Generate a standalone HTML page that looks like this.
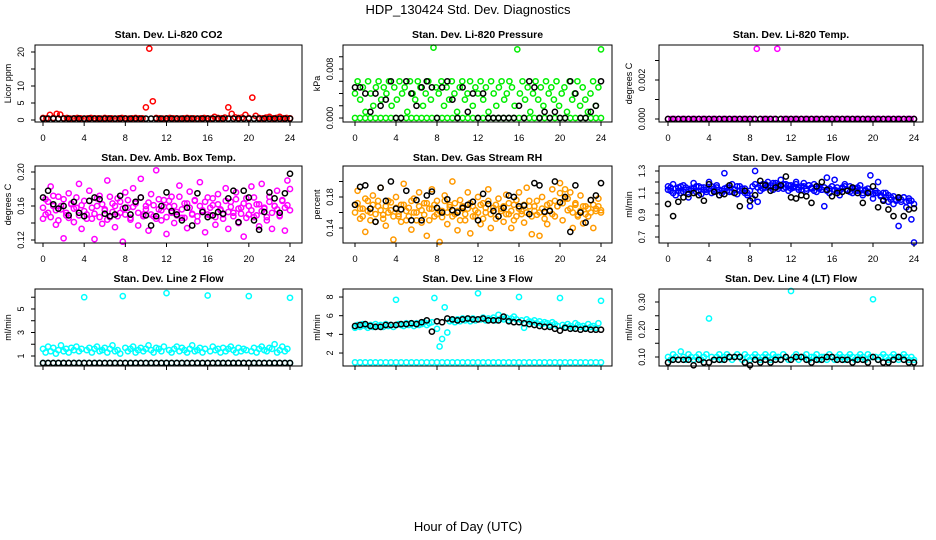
<!DOCTYPE html>
<html><head><meta charset="utf-8">
<style>
html,body{margin:0;padding:0;background:#fff;}
svg{display:block;font-family:"Liberation Sans",sans-serif;}
</style></head>
<body>
<svg id="chart" width="936" height="540" viewBox="0 0 936 540" xmlns="http://www.w3.org/2000/svg">
<rect width="936" height="540" fill="#fff"/>
<text x="468" y="14" font-size="13" text-anchor="middle">HDP_130424  Std. Dev. Diagnostics</text>
<text x="468" y="531" font-size="13" text-anchor="middle">Hour of Day (UTC)</text>
<g id="panels"></g>
</svg>
<script>
// ---- data (x = hour spread over 0..24 by index) ----
const xTicks = [0,4,8,12,16,20,24];

const co2Red = [0.6,0.5,1.5,0.6,1.8,1.6,0.5,0.6,0.4,0.5,0.6,0.5,0.4,0.5,0.6,0.5,0.5,0.4,0.6,0.5,0.5,0.4,0.5,0.6,0.5,0.4,0.5,0.6,0.5,0.5,3.7,21,5.5,0.6,0.5,0.4,0.5,0.6,0.5,0.5,0.4,0.5,0.6,0.5,0.5,0.4,0.5,0.6,0.5,0.4,0.9,0.6,0.5,0.7,3.7,1.8,0.8,0.6,0.7,1.5,0.6,6.6,1.2,0.6,0.5,0.7,0.9,0.5,0.6,0.9,0.5,0.6,0.5];
const co2Black = [0.4,0.4,0.4,0.4,0.4,0.4,0.4,0.4,0.4,0.4,0.4,0.4,0.4,0.4,0.4,0.4,0.4,0.4,0.4,0.4,0.4,0.4,0.4,0.4,0.4,0.4,0.4,0.4,0.4,0.4,0.4,0.4,0.4,0.4,0.4,0.4,0.4,0.4,0.4,0.4,0.4,0.4,0.4,0.4,0.4,0.4,0.4,0.4,0.4];

const presGreen = [0.004,0.006,0.003,0.005,0.001,0.006,0.004,0.002,0.005,0.006,0.003,0.005,0.004,0.006,0.002,0.005,0.003,0.006,0.004,0.005,0.001,0.006,0.004,0.003,0.006,0.005,0.002,0.004,0.006,0.003,0.0115,0.005,0.004,0.006,0.002,0.005,0.003,0.006,0.004,0.001,0.005,0.006,0.003,0.004,0.006,0.002,0.005,0.004,0.006,0.003,0.005,0.001,0.006,0.004,0.002,0.005,0.006,0.003,0.004,0.006,0.005,0.002,0.0112,0.004,0.006,0.003,0.005,0.001,0.004,0.006,0.003,0.005,0.002,0.006,0.004,0.005,0.003,0.006,0.002,0.004,0.005,0.001,0.006,0.003,0.004,0.006,0.002,0.005,0.003,0.001,0.004,0.006,0.002,0.005,0.0112];
const presGreenBase = [0,0,0,0,0,0,0,0,0,0,0,0,0,0,0,0,0,0,0,0,0,0,0,0,0,0,0,0,0,0,0,0,0,0,0,0,0,0,0,0,0,0,0,0,0,0,0,0,0];
const presBlack = [0.005,0.005,0.004,0.001,0.004,0.002,0.003,0.006,0,0,0.006,0.004,0.002,0.005,0.006,0.005,0,0.005,0.006,0.003,0,0.005,0.001,0.004,0,0.004,0,0,0,0,0,0,0.002,0,0.006,0.005,0,0.001,0,0.001,0,0,0.006,0.004,0,0,0.001,0.002,0.006];

const tempMag = [0,0,0,0,0,0,0,0,0,0,0,0,0,0,0,0,0,0,0,0,0,0,0,0,0,0,0.0036,0,0,0,0,0,0.0036,0,0,0,0,0,0,0,0,0,0,0,0,0,0,0,0,0,0,0,0,0,0,0,0,0,0,0,0,0,0,0,0,0,0,0,0,0,0,0,0];
const tempBlack = [0,0,0,0,0,0,0,0,0,0,0,0,0,0,0,0,0,0,0,0,0,0,0,0,0,0,0,0,0,0,0,0,0,0,0,0,0,0,0,0,0,0,0,0,0,0,0,0,0];

const ambMag = [0.145,0.168,0.152,0.183,0.160,0.138,0.171,0.156,0.122,0.149,0.175,0.162,0.141,0.158,0.186,0.133,0.166,0.150,0.178,0.145,0.121,0.160,0.172,0.139,0.155,0.190,0.147,0.163,0.135,0.169,0.152,0.118,0.176,0.158,0.144,0.181,0.165,0.137,0.192,0.150,0.160,0.131,0.174,0.148,0.202,0.156,0.143,0.167,0.127,0.159,0.171,0.140,0.153,0.184,0.146,0.163,0.134,0.177,0.150,0.166,0.142,0.188,0.155,0.129,0.170,0.149,0.161,0.138,0.174,0.156,0.145,0.181,0.133,0.165,0.152,0.176,0.140,0.158,0.124,0.169,0.150,0.183,0.147,0.162,0.136,0.186,0.157,0.143,0.171,0.133,0.160,0.178,0.148,0.166,0.131,0.190,0.180];
const ambMag2 = [0.158,0.150,0.165,0.147,0.172,0.155,0.143,0.160,0.168,0.152,0.146,0.163,0.157,0.170,0.149,0.161,0.154,0.145,0.166,0.158,0.151,0.169,0.147,0.162,0.156,0.144,0.171,0.153,0.160,0.148,0.165,0.157,0.150,0.167,0.146,0.159,0.163,0.152,0.170,0.148,0.156,0.164,0.150,0.161,0.145,0.168,0.155,0.159,0.147,0.166,0.152,0.160,0.149,0.171,0.156,0.146,0.163,0.158,0.151,0.167,0.148,0.160,0.154,0.165,0.150,0.158,0.169,0.147,0.162,0.155,0.150,0.166,0.153,0.159,0.148,0.168,0.157,0.151,0.163,0.146,0.160,0.155,0.170,0.149,0.162,0.154,0.158,0.147,0.165,0.152,0.160,0.156,0.149,0.167,0.158,0.161,0.155];
const ambBlack = [0.170,0.178,0.162,0.157,0.160,0.149,0.165,0.152,0.148,0.166,0.170,0.168,0.151,0.148,0.150,0.172,0.158,0.150,0.165,0.170,0.149,0.137,0.148,0.160,0.176,0.154,0.150,0.143,0.158,0.137,0.175,0.153,0.147,0.149,0.153,0.151,0.169,0.178,0.141,0.178,0.170,0.143,0.132,0.153,0.176,0.169,0.152,0.175,0.198];

const rhOrange = [0.170,0.188,0.152,0.165,0.135,0.175,0.160,0.182,0.148,0.168,0.192,0.157,0.143,0.175,0.163,0.125,0.180,0.155,0.170,0.197,0.150,0.166,0.138,0.178,0.160,0.186,0.147,0.172,0.130,0.165,0.190,0.155,0.175,0.122,0.162,0.182,0.145,0.170,0.200,0.158,0.137,0.176,0.165,0.150,0.186,0.133,0.168,0.155,0.180,0.145,0.172,0.160,0.190,0.140,0.166,0.152,0.178,0.162,0.148,0.183,0.158,0.140,0.170,0.155,0.186,0.162,0.147,0.192,0.175,0.132,0.168,0.157,0.130,0.180,0.160,0.145,0.172,0.190,0.155,0.168,0.198,0.150,0.178,0.163,0.186,0.140,0.172,0.157,0.182,0.146,0.168,0.155,0.176,0.140,0.165,0.178,0.160];
const rhOrange2 = [0.160,0.172,0.165,0.155,0.178,0.162,0.150,0.170,0.158,0.175,0.163,0.152,0.168,0.160,0.173,0.155,0.166,0.158,0.148,0.170,0.162,0.155,0.175,0.160,0.150,0.168,0.163,0.157,0.172,0.150,0.165,0.170,0.158,0.162,0.154,0.175,0.160,0.167,0.155,0.172,0.162,0.150,0.168,0.158,0.165,0.172,0.155,0.163,0.160,0.170,0.152,0.166,0.175,0.158,0.162,0.170,0.155,0.165,0.168,0.158,0.172,0.162,0.150,0.176,0.165,0.158,0.170,0.160,0.168,0.155,0.162,0.175,0.160,0.165,0.152,0.170,0.163,0.158,0.175,0.168,0.185,0.172,0.190,0.178,0.165,0.160,0.170,0.155,0.162,0.168,0.158,0.165,0.160,0.170,0.162,0.168,0.163];
const rhBlack = [0.170,0.193,0.195,0.165,0.148,0.192,0.175,0.200,0.165,0.164,0.188,0.150,0.176,0.150,0.182,0.187,0.166,0.160,0.177,0.163,0.160,0.166,0.170,0.174,0.150,0.184,0.171,0.162,0.155,0.166,0.182,0.180,0.168,0.169,0.158,0.198,0.195,0.161,0.162,0.200,0.173,0.180,0.135,0.195,0.160,0.147,0.176,0.182,0.198];

const flowBlue = [1.16,1.12,1.18,1.08,1.15,1.10,1.17,1.13,1.06,1.14,1.19,1.11,1.16,1.09,1.15,1.13,1.20,1.10,1.14,1.17,1.08,1.12,1.28,1.15,1.11,1.18,1.13,1.09,1.16,1.12,1.14,1.10,0.98,1.05,1.30,1.02,1.12,1.18,1.15,1.20,1.17,1.13,1.19,1.16,1.22,1.14,1.18,1.12,1.17,1.15,1.20,1.13,1.16,1.19,1.12,1.17,1.14,1.18,1.11,1.15,1.13,0.98,1.24,1.10,1.16,1.22,1.12,1.08,1.15,1.18,1.13,1.16,1.10,1.14,1.12,1.17,1.08,1.13,1.11,1.26,1.05,1.10,1.20,1.08,1.04,1.10,1.02,1.06,1.00,1.04,0.80,1.02,1.06,0.97,1.03,0.86,0.65];
const flowBlue2 = [1.13,1.15,1.10,1.14,1.12,1.16,1.11,1.15,1.13,1.12,1.14,1.16,1.12,1.15,1.13,1.11,1.14,1.16,1.12,1.15,1.13,1.10,1.14,1.12,1.15,1.11,1.13,1.16,1.12,1.14,1.10,1.08,1.12,1.16,1.18,1.15,1.17,1.14,1.18,1.16,1.15,1.19,1.17,1.14,1.16,1.18,1.15,1.17,1.14,1.16,1.18,1.15,1.13,1.16,1.14,1.17,1.15,1.12,1.16,1.14,1.13,1.15,1.12,1.14,1.16,1.13,1.15,1.12,1.14,1.16,1.13,1.11,1.14,1.12,1.15,1.13,1.10,1.12,1.14,1.11,1.09,1.12,1.10,1.07,1.10,1.06,1.08,1.04,1.07,1.03,1.05,1.04,1.06,1.02,1.05,1.03,1.00];
const flowBlack = [1.00,0.89,1.02,1.06,1.09,1.10,1.08,1.03,1.18,1.11,1.08,1.09,1.17,1.10,0.98,1.12,1.03,1.08,1.21,1.17,1.12,1.15,1.17,1.25,1.06,1.05,1.08,1.07,1.01,1.16,1.20,1.13,1.07,1.10,1.11,1.12,1.15,1.10,1.01,1.10,1.16,0.97,1.03,0.95,0.89,1.06,0.89,0.95,0.96];

const l2Cyan = [1.6,1.3,1.8,1.4,1.7,1.2,1.5,1.9,1.4,1.6,1.3,1.7,1.5,1.8,1.4,1.6,6.0,1.5,1.7,1.3,1.6,1.8,1.4,1.5,1.7,1.3,1.6,1.9,1.4,1.5,1.2,6.1,1.7,1.4,1.6,1.8,1.3,1.5,1.7,1.4,1.6,1.9,1.5,1.3,1.7,1.6,1.4,1.8,6.35,1.5,1.3,1.6,1.8,1.4,1.7,1.5,1.3,1.6,1.9,1.4,1.5,1.7,1.3,1.6,6.15,1.4,1.8,1.5,1.6,1.3,1.7,1.4,1.6,1.8,1.5,1.3,1.7,1.4,1.6,1.5,6.1,1.4,1.7,1.3,1.6,1.8,1.5,1.4,1.7,1.6,2.0,1.3,1.5,1.8,1.4,1.6,5.95];
const l2CyanBase = [0.4,0.4,0.4,0.4,0.4,0.4,0.4,0.4,0.4,0.4,0.4,0.4,0.4,0.4,0.4,0.4,0.4,0.4,0.4,0.4,0.4,0.4,0.4,0.4,0.4,0.4,0.4,0.4,0.4,0.4,0.4,0.4,0.4,0.4,0.4,0.4,0.4,0.4,0.4,0.4,0.4,0.4,0.4,0.4,0.4,0.4,0.4,0.4,0.4];
const l2Black = [0.4,0.4,0.4,0.4,0.4,0.4,0.4,0.4,0.4,0.4,0.4,0.4,0.4,0.4,0.4,0.4,0.4,0.4,0.4,0.4,0.4,0.4,0.4,0.4,0.4,0.4,0.4,0.4,0.4,0.4,0.4,0.4,0.4,0.4,0.4,0.4,0.4,0.4,0.4,0.4,0.4,0.4,0.4,0.4,0.4,0.4,0.4,0.4,0.4];

const l3Cyan = [4.7,5.0,4.8,5.1,4.9,4.7,5.0,4.8,5.1,4.9,5.0,4.8,5.1,4.9,5.0,4.8,7.7,5.1,5.0,4.9,5.2,5.0,5.1,4.9,5.2,5.0,5.1,5.3,5.0,5.2,5.3,7.9,4.6,2.7,3.5,6.9,4.2,5.4,5.5,5.3,5.6,5.4,5.7,5.5,5.6,5.4,5.7,5.5,8.4,5.6,5.8,5.5,5.7,5.6,5.8,5.5,6.1,5.7,5.6,5.8,5.5,5.7,5.9,5.6,8.0,5.5,4.7,5.6,5.4,5.3,5.5,5.2,5.4,5.1,5.3,5.2,5.0,5.3,5.1,4.9,7.9,5.0,4.8,5.1,4.9,4.7,5.2,5.0,4.8,4.9,4.7,5.1,4.8,4.9,4.7,5.2,7.6];
const l3CyanBase = [1,1,1,1,1,1,1,1,1,1,1,1,1,1,1,1,1,1,1,1,1,1,1,1,1,1,1,1,1,1,1,1,1,1,1,1,1,1,1,1,1,1,1,1,1,1,1,1,1];
const l3Black = [4.9,5.0,5.1,4.9,4.8,4.8,5.0,5.0,5.0,5.1,5.1,5.2,5.1,5.3,5.5,4.3,5.4,5.3,5.7,5.6,5.5,5.6,5.7,5.6,5.6,5.7,5.5,5.5,5.5,5.9,5.4,5.3,5.3,5.2,5.1,5.0,4.9,4.8,4.8,4.6,4.4,4.7,4.6,4.6,4.5,4.6,4.5,4.5,4.5];

const l4Cyan = [0.10,0.09,0.11,0.10,0.09,0.12,0.10,0.09,0.11,0.10,0.09,0.10,0.11,0.09,0.10,0.11,0.24,0.10,0.09,0.10,0.11,0.09,0.10,0.11,0.10,0.09,0.10,0.11,0.10,0.09,0.11,0.10,0.09,0.10,0.11,0.10,0.09,0.10,0.11,0.10,0.09,0.11,0.10,0.10,0.09,0.11,0.10,0.09,0.34,0.10,0.11,0.09,0.10,0.10,0.11,0.09,0.10,0.10,0.11,0.09,0.10,0.10,0.09,0.11,0.10,0.09,0.10,0.11,0.10,0.09,0.10,0.11,0.10,0.09,0.10,0.11,0.10,0.09,0.11,0.10,0.31,0.10,0.09,0.10,0.11,0.10,0.09,0.10,0.11,0.10,0.09,0.10,0.11,0.10,0.09,0.10,0.09];
const l4Black = [0.08,0.09,0.09,0.09,0.09,0.07,0.09,0.08,0.08,0.09,0.09,0.09,0.10,0.10,0.10,0.08,0.07,0.09,0.08,0.09,0.08,0.09,0.09,0.10,0.09,0.10,0.10,0.09,0.08,0.09,0.09,0.10,0.10,0.09,0.09,0.09,0.08,0.09,0.09,0.08,0.10,0.09,0.08,0.08,0.09,0.10,0.09,0.08,0.08];

// ---- layout ----
const cols = [
  {bx0:35, bx1:302, xd0:43, xd1:290, tickLblX:21, yTitleX:8},
  {bx0:343, bx1:612, xd0:355, xd1:601, tickLblX:330, yTitleX:317},
  {bx0:659, bx1:923, xd0:668, xd1:914, tickLblX:642, yTitleX:629}
];
const rows = [
  {by0:45, by1:122, titleY:38, xLabels:true},
  {by0:166, by1:243, titleY:161, xLabels:true},
  {by0:289, by1:366, titleY:282, xLabels:false}
];
const panels = [
  {name:'co2', r:0,c:0,title:'Stan. Dev. Li-820 CO2', ylab:'Licor ppm', yMin:-0.59, yMax:22.06, ticks:[0,5,10,15,20], labels:['0','5','10','','20'], series:[[co2Red,'#ff0000'],[co2Black,'#000']]},
  {name:'pressure', r:0,c:1,title:'Stan. Dev. Li-820 Pressure', ylab:'kPa', yMin:-0.00065, yMax:0.01192, ticks:[0,0.002,0.004,0.006,0.008,0.010], labels:['0.000','','','','0.008',''], series:[[presGreenBase,'#00ee00'],[presGreen,'#00ee00'],[presBlack,'#000']]},
  {name:'temp', r:0,c:2,title:'Stan. Dev. Li-820 Temp.', ylab:'degrees C', yMin:-0.000154, yMax:0.003795, ticks:[0,0.001,0.002,0.003], labels:['0.000','','0.002',''], series:[[tempMag,'#ff00ff'],[tempBlack,'#000']]},
  {name:'amb-box-temp', r:1,c:0,title:'Stan. Dev. Amb. Box Temp.', ylab:'degrees C', yMin:0.11647, yMax:0.20706, ticks:[0.12,0.14,0.16,0.18,0.20], labels:['0.12','','0.16','','0.20'], series:[[ambMag2,'#ff00ff'],[ambMag,'#ff00ff'],[ambBlack,'#000']]},
  {name:'gas-rh', r:1,c:1,title:'Stan. Dev. Gas Stream RH', ylab:'percent', yMin:0.12065, yMax:0.2200, ticks:[0.14,0.16,0.18,0.20], labels:['0.14','','0.18',''], series:[[rhOrange2,'#ffa000'],[rhOrange,'#ff9900'],[rhBlack,'#000']]},
  {name:'sample-flow', r:1,c:2,title:'Stan. Dev. Sample Flow', ylab:'ml/min', yMin:0.6455, yMax:1.3455, ticks:[0.7,0.8,0.9,1.0,1.1,1.2,1.3], labels:['0.7','','0.9','','1.1','','1.3'], series:[[flowBlue2,'#0000ff'],[flowBlue,'#0000ff'],[flowBlack,'#000']]},
  {name:'line2-flow', r:2,c:0,title:'Stan. Dev. Line 2 Flow', ylab:'ml/min', yMin:0.149, yMax:6.70, ticks:[1,2,3,4,5,6], labels:['1','','3','','5',''], series:[[l2Cyan,'#00ffff'],[l2CyanBase,'#00ffff'],[l2Black,'#000']]},
  {name:'line3-flow', r:2,c:1,title:'Stan. Dev. Line 3 Flow', ylab:'ml/min', yMin:0.61, yMax:8.86, ticks:[2,4,6,8], labels:['2','4','6','8'], series:[[l3Cyan,'#00ffff'],[l3CyanBase,'#00ffff'],[l3Black,'#000']]},
  {name:'line4-flow', r:2,c:2,title:'Stan. Dev. Line 4 (LT) Flow', ylab:'ml/min', yMin:0.0673, yMax:0.3473, ticks:[0.10,0.15,0.20,0.25,0.30], labels:['0.10','','0.20','','0.30'], series:[[l4Cyan,'#00ffff'],[l4Black,'#000']]}
];

const NS='http://www.w3.org/2000/svg';
const root=document.getElementById('panels');
function mk(tag,attrs,parent){const e=document.createElementNS(NS,tag);for(const k in attrs)e.setAttribute(k,attrs[k]);parent.appendChild(e);return e;}

panels.forEach(p=>{
  const C=cols[p.c], R=rows[p.r];
  const g=mk('g',{},root);
  
  
  const xs=h=>C.xd0+(C.xd1-C.xd0)*h/24;
  const ys=v=>R.by1-(v-p.yMin)/(p.yMax-p.yMin)*(R.by1-R.by0);
  const t=mk('text',{x:(C.bx0+C.bx1)/2,y:R.titleY,'font-size':10.5,'font-weight':'bold','text-anchor':'middle'},g);
  t.textContent=p.title;
  
  
  const yl=mk('text',{x:C.yTitleX,y:(R.by0+R.by1)/2,'font-size':9,'text-anchor':'middle',transform:`rotate(-90 ${C.yTitleX} ${(R.by0+R.by1)/2})`,dy:'0.35em'},g);
  yl.textContent=p.ylab;
  
  
  // points
  const pg=mk('g',{fill:'none','stroke-width':1.5},g);
  
  
  p.series.forEach(([vals,col])=>{
    const n=vals.length;
    vals.forEach((v,i)=>{
      const c=mk('circle',{cx:xs(i*24/(n-1)).toFixed(1),cy:ys(v).toFixed(1),r:2.6,stroke:col},pg);
      
      
    });
  });
  // box
  const box=mk('rect',{x:C.bx0,y:R.by0,width:C.bx1-C.bx0,height:R.by1-R.by0,fill:'none',stroke:'#000','stroke-width':1},g);
  
  
  // x axis ticks
  xTicks.forEach(h=>{
    const x=xs(h);
    mk('line',{x1:x,x2:x,y1:R.by1,y2:R.by1+4,stroke:'#000'},g);
    if(R.xLabels){
      const tl=mk('text',{x:x,y:R.by1+19,'font-size':9.5,'text-anchor':'middle'},g);
      tl.textContent=h;
      
      
    }
  });
  // y ticks
  p.ticks.forEach((v,i)=>{
    const y=ys(v);
    mk('line',{x1:C.bx0-4,x2:C.bx0,y1:y,y2:y,stroke:'#000'},g);
    if(p.labels[i]){
      const tl=mk('text',{x:C.tickLblX,y:y,'font-size':9,'text-anchor':'middle',dy:'0.35em',transform:`rotate(-90 ${C.tickLblX} ${y})`},g);
      tl.textContent=p.labels[i];
      
      
    }
  });
});
</script>
</body></html>
